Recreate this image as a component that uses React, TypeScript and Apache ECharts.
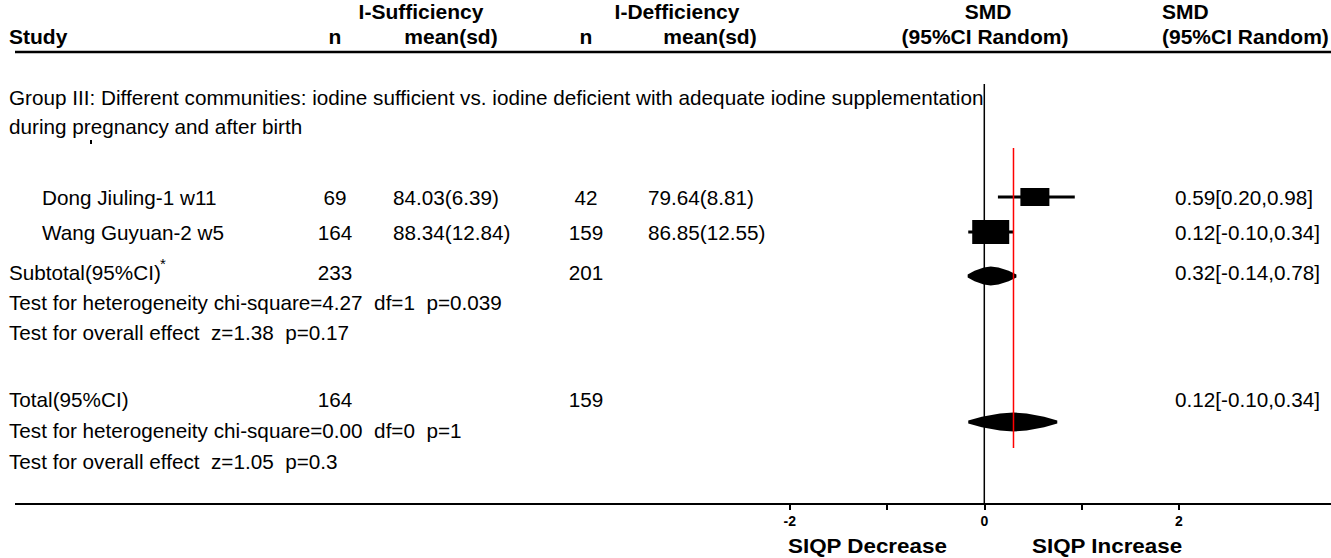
import React, { useEffect, useRef } from "react";
import * as echarts from "echarts";

// ---------- data ----------
const studyNames = ["Dong Jiuling-1 w11", "Wang Guyuan-2 w5"];
const nSufficiency = [69, 164];
const meanSufficiency = ["84.03(6.39)", "88.34(12.84)"];
const nDeficiency = [42, 159];
const meanDeficiency = ["79.64(8.81)", "86.85(12.55)"];
const smdLabels = ["0.59[0.20,0.98]", "0.12[-0.10,0.34]"];
// plotted positions
const smdEstimate = [0.52, 0.066];
const smdLower = [0.14, -0.165];
const smdUpper = [0.93, 0.3];

const subtotalN = [233, 201];
const subtotalLabel = "0.32[-0.14,0.78]";
const subtotalDiamond = [-0.171, 0.066, 0.33]; // lower, estimate, upper

const totalN = [164, 159];
const totalLabel = "0.12[-0.10,0.34]";
const totalDiamond = [-0.165, 0.3, 0.75];

const pooledLine = 0.3;

const axisTicks = [-2, -1, 0, 1, 2];

const groupTitle = [
  "Group III: Different communities: iodine sufficient vs. iodine deficient with adequate iodine supplementation",
  "during pregnancy and after birth",
];
const subtotalTests = [
  "Test for heterogeneity chi-square=4.27  df=1  p=0.039",
  "Test for overall effect  z=1.38  p=0.17",
];
const totalTests = [
  "Test for heterogeneity chi-square=0.00  df=0  p=1",
  "Test for overall effect  z=1.05  p=0.3",
];

// ---------- layout ----------
const W = 1331;
const H = 558;
const X0 = 984.3; // pixel of SMD = 0
const PX_PER_UNIT = 97.3;
const XMIN = -X0 / PX_PER_UNIT;
const XMAX = (W - X0) / PX_PER_UNIT;

const Y = {
  hdr1: 11,
  hdr2: 36,
  rule: 52,
  zeroTop: 84,
  group1: 97,
  group2: 126,
  rows: [197, 232],
  boxRows: [197, 232],
  subtotal: 272,
  subDiamond: 276,
  het1: 302,
  ov1: 332,
  total: 399,
  totDiamond: 422,
  het2: 430,
  ov2: 461,
  redTop: 148,
  redBottom: 448,
  axis: 504,
  siqp: 546,
};
const boxSizes = [
  [29, 18],
  [37, 24],
];
const diamondHeight = 19;

const FONT = "'Liberation Sans', Arial, Helvetica, sans-serif";
const NORMAL = `20.7px ${FONT}`;
const BOLD = `bold 21px ${FONT}`;

function txt(text: string, x: number, y: number, font = NORMAL, align = "left", scaleX = 1) {
  return {
    type: "text",
    x,
    y,
    scaleX,
    silent: true,
    style: {
      text,
      font,
      fill: "#000",
      textAlign: align,
      textVerticalAlign: "middle",
    },
  };
}

export default function App() {
  const ref = useRef<HTMLDivElement>(null);

  useEffect(() => {
    document.body.style.margin = "0";
    if (!ref.current) return;
    const chart = echarts.init(ref.current, undefined, { renderer: "svg" });

    const studyData = smdEstimate.map((e, i) => [
      e,
      smdLower[i],
      smdUpper[i],
      Y.boxRows[i],
      boxSizes[i][0],
      boxSizes[i][1],
    ]);
    const diamondData = [
      [subtotalDiamond[1], subtotalDiamond[0], subtotalDiamond[2], Y.subDiamond],
      [totalDiamond[1], totalDiamond[0], totalDiamond[2], Y.totDiamond],
    ];

    const graphics: any[] = [];
    // headers
    graphics.push(txt("I-Sufficiency", 421, Y.hdr1, BOLD, "center"));
    graphics.push(txt("I-Defficiency", 677, Y.hdr1, BOLD, "center"));
    graphics.push(txt("SMD", 988, Y.hdr1, BOLD, "center"));
    graphics.push(txt("SMD", 1162, Y.hdr1, BOLD, "left"));
    graphics.push(txt("Study", 9, Y.hdr2, BOLD, "left"));
    graphics.push(txt("n", 335, Y.hdr2, BOLD, "center"));
    graphics.push(txt("mean(sd)", 451, Y.hdr2, BOLD, "center"));
    graphics.push(txt("n", 586, Y.hdr2, BOLD, "center"));
    graphics.push(txt("mean(sd)", 710, Y.hdr2, BOLD, "center"));
    graphics.push(txt("(95%CI Random)", 985, Y.hdr2, BOLD, "center"));
    graphics.push(txt("(95%CI Random)", 1162, Y.hdr2, BOLD, "left"));
    // rules
    graphics.push({
      type: "line",
      silent: true,
      shape: { x1: 15, y1: Y.rule, x2: W, y2: Y.rule },
      style: { stroke: "#000", lineWidth: 2.5 },
    });
    graphics.push({
      type: "line",
      silent: true,
      shape: { x1: 15, y1: Y.axis, x2: W, y2: Y.axis },
      style: { stroke: "#000", lineWidth: 2 },
    });
    // group title
    graphics.push(txt(groupTitle[0], 9, Y.group1));
    graphics.push(txt(groupTitle[1], 9, Y.group2));
    graphics.push({
      type: "rect",
      silent: true,
      shape: { x: 90, y: 140, width: 2, height: 4 },
      style: { fill: "#000" },
    });
    // study rows
    studyNames.forEach((name, i) => {
      const y = Y.rows[i];
      graphics.push(txt(name, 42, y));
      graphics.push(txt(String(nSufficiency[i]), 335, y, NORMAL, "center"));
      graphics.push(txt(meanSufficiency[i], 393, y));
      graphics.push(txt(String(nDeficiency[i]), 586, y, NORMAL, "center"));
      graphics.push(txt(meanDeficiency[i], 648, y));
      graphics.push(txt(smdLabels[i], 1175, y));
    });
    // subtotal
    graphics.push(txt("Subtotal(95%CI)", 9, Y.subtotal));
    graphics.push(txt("*", 160, Y.subtotal - 9, `15px ${FONT}`));
    graphics.push(txt(String(subtotalN[0]), 335, Y.subtotal, NORMAL, "center"));
    graphics.push(txt(String(subtotalN[1]), 586, Y.subtotal, NORMAL, "center"));
    graphics.push(txt(subtotalLabel, 1175, Y.subtotal));
    graphics.push(txt(subtotalTests[0], 9, Y.het1));
    graphics.push(txt(subtotalTests[1], 9, Y.ov1));
    // total
    graphics.push(txt("Total(95%CI)", 9, Y.total));
    graphics.push(txt(String(totalN[0]), 335, Y.total, NORMAL, "center"));
    graphics.push(txt(String(totalN[1]), 586, Y.total, NORMAL, "center"));
    graphics.push(txt(totalLabel, 1175, Y.total));
    graphics.push(txt(totalTests[0], 9, Y.het2));
    graphics.push(txt(totalTests[1], 9, Y.ov2));
    // direction labels
    graphics.push(txt("SIQP Decrease", 788, Y.siqp, `bold 20px ${FONT}`, "left", 1.12));
    graphics.push(txt("SIQP Increase", 1032, Y.siqp, `bold 20px ${FONT}`, "left", 1.12));

    chart.setOption({
      animation: false,
      backgroundColor: "#fff",
      grid: [
        { left: 0, right: 0, top: 0, bottom: 0 },
        {
          left: X0 - 2 * PX_PER_UNIT,
          right: W - (X0 + 2 * PX_PER_UNIT),
          top: Y.axis - 3,
          bottom: H - Y.axis,
        },
      ],
      xAxis: [
        { type: "value", gridIndex: 0, min: XMIN, max: XMAX, show: false },
        {
          type: "value",
          gridIndex: 1,
          min: axisTicks[0],
          max: axisTicks[axisTicks.length - 1],
          interval: 1,
          position: "bottom",
          axisLine: { show: false },
          splitLine: { show: false },
          axisTick: { show: true, length: 6, lineStyle: { color: "#000", width: 2 } },
          axisLabel: {
            color: "#000",
            fontFamily: FONT,
            fontWeight: "bold",
            fontSize: 14,
            margin: 10,
            formatter: (v: number) => (v % 2 === 0 ? String(v) : ""),
          },
        },
      ],
      yAxis: [
        { type: "value", gridIndex: 0, min: 0, max: H, inverse: true, show: false },
        { type: "value", gridIndex: 1, min: 0, max: 1, show: false },
      ],
      series: [
        {
          type: "line",
          xAxisIndex: 0,
          yAxisIndex: 0,
          data: [
            [0, Y.zeroTop],
            [0, Y.axis],
          ],
          symbol: "none",
          lineStyle: { color: "#000", width: 1.5 },
          silent: true,
        },
        {
          type: "custom",
          xAxisIndex: 0,
          yAxisIndex: 0,
          data: studyData,
          silent: true,
          renderItem: (params: any, api: any) => {
            const e = api.coord([api.value(0), api.value(3)]);
            const lo = api.coord([api.value(1), api.value(3)]);
            const hi = api.coord([api.value(2), api.value(3)]);
            const bw = api.value(4);
            const bh = api.value(5);
            return {
              type: "group",
              children: [
                {
                  type: "line",
                  shape: { x1: lo[0], y1: lo[1], x2: hi[0], y2: hi[1] },
                  style: { stroke: "#000", lineWidth: 3 },
                },
                {
                  type: "rect",
                  shape: { x: e[0] - bw / 2, y: e[1] - bh / 2, width: bw, height: bh },
                  style: { fill: "#000" },
                },
              ],
            };
          },
        },
        {
          type: "custom",
          xAxisIndex: 0,
          yAxisIndex: 0,
          data: diamondData,
          silent: true,
          renderItem: (params: any, api: any) => {
            const y = api.value(3);
            const e = api.coord([api.value(0), y]);
            const lo = api.coord([api.value(1), y]);
            const hi = api.coord([api.value(2), y]);
            const h = diamondHeight / 2;
            const cy = e[1];
            const L = lo[0];
            const R = hi[0];
            const C = e[0];
            const top = [
              [L, cy - 1.5],
              [L + 0.3 * (C - L), cy - 0.55 * h],
              [L + 0.7 * (C - L), cy - 0.9 * h],
              [C, cy - h],
              [C + 0.3 * (R - C), cy - 0.9 * h],
              [C + 0.7 * (R - C), cy - 0.55 * h],
              [R, cy - 1.5],
            ];
            const bottom = top
              .slice()
              .reverse()
              .map((p) => [p[0], 2 * cy - p[1]]);
            return {
              type: "polygon",
              shape: { points: top.concat(bottom) },
              style: { fill: "#000" },
            };
          },
        },
        {
          type: "line",
          xAxisIndex: 0,
          yAxisIndex: 0,
          data: [
            [pooledLine, Y.redTop],
            [pooledLine, Y.redBottom],
          ],
          symbol: "none",
          lineStyle: { color: "#ff0000", width: 1.5 },
          silent: true,
          z: 5,
        },
      ],
      graphic: graphics,
    });

    return () => chart.dispose();
  }, []);

  return <div ref={ref} style={{ width: W, height: H }} />;
}
